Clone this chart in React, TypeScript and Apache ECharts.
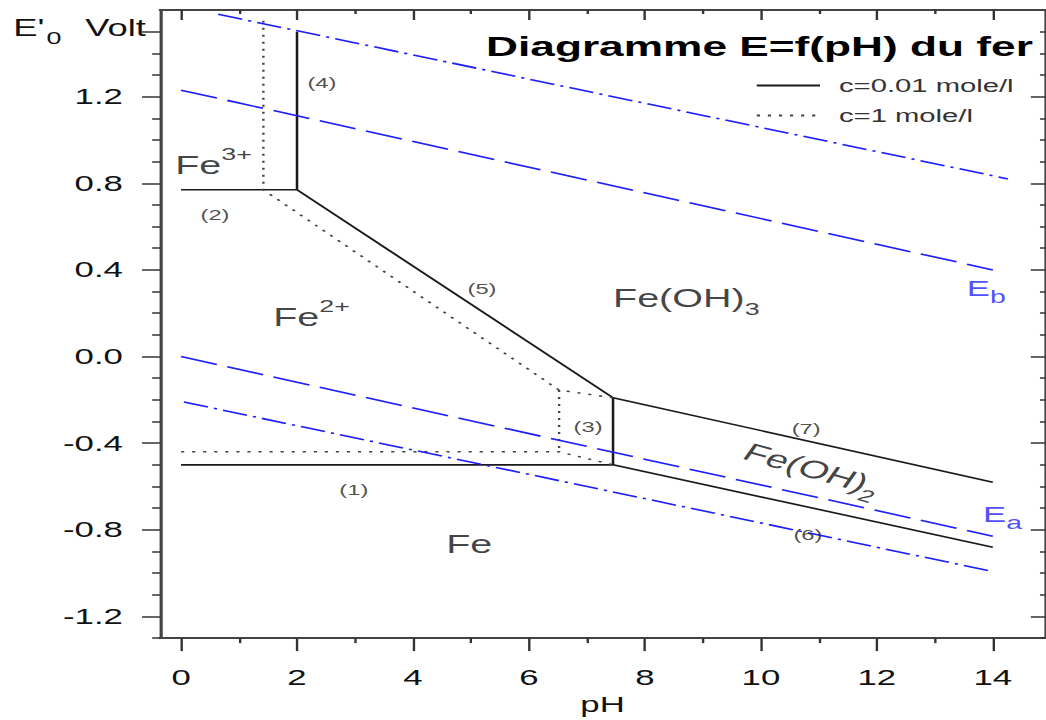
import React, { useEffect, useRef } from 'react';
import * as echarts from 'echarts';

// horizontal stretch of the reference picture
const S = 1.58;
const W = 670;
const H = 720;
const FONT = '"Liberation Sans", Arial, Helvetica, sans-serif';
const BLUE = '#1f1fff';
const INK = '#111';

// axes
const X_MIN = -0.362;
const X_MAX = 14.9;
const Y_MIN = -1.3;
const Y_MAX = 1.6;
const xMajorTicks = [0, 2, 4, 6, 8, 10, 12, 14];
const xMinorTicks = [1, 3, 5, 7, 9, 11, 13];
const yMajorTicks = [-1.2, -0.8, -0.4, 0, 0.4, 0.8, 1.2];
const yMinorTicks = [-1.3, -1.1, -1.0, -0.9, -0.7, -0.6, -0.5, -0.3, -0.2, -0.1, 0.1, 0.2, 0.3, 0.5, 0.6, 0.7, 0.9, 1.0, 1.1, 1.3, 1.4, 1.5];
const yNameTick = [1.5];

// c = 0.01 mole/l (solid)
const c001Upper = [[0, 0.77], [2, 0.77], [7.45, -0.19], [14, -0.58]];
const c001Line4 = [[2, 0.77], [2, 1.5]];
const c001Line3 = [[7.45, -0.19], [7.45, -0.5]];
const c001Lower = [[0, -0.5], [7.45, -0.5], [14, -0.88]];
// c = 1 mole/l (dotted)
const c1Upper = [[1.42, 1.55], [1.42, 0.77], [6.52, -0.155], [7.45, -0.19]];
const c1Line3 = [[6.52, -0.155], [6.52, -0.445]];
const c1Lower = [[0, -0.44], [6.52, -0.44], [7.45, -0.5]];
// water lines
const ebDashed = [[0, 1.23], [14, 0.4]];
const ebDashDot = [[0.64, 1.58], [14.26, 0.82]];
const eaDashed = [[0, 0], [14, -0.83]];
const eaDashDot = [[0.05, -0.21], [13.95, -0.99]];

// annotations
const speciesText = ['{m|Fe}{sup|3+}', '{m|Fe}{sup|2+}', '{m|Fe(OH)}{sub|3}', '{m|Fe}', '{m|Fe(OH)}{sub|2}', '{e|E}{es|b}', '{e|E}{es|a}'];
const speciesX = [-0.1, 1.59, 7.45, 4.97, 10.9, 13.55, 13.83];
const speciesY = [0.883, 0.179, 0.271, -0.869, -0.52, 0.313, -0.731];
const speciesAlign = ['left', 'left', 'left', 'center', 'center', 'left', 'left'];
const speciesRotate = [0, 0, 0, 0, -24, 0, 0];
const numText = ['(1)', '(2)', '(3)', '(4)', '(5)', '(6)', '(7)'];
const numX = [2.98, 0.586, 7.02, 2.43, 5.19, 10.81, 10.78];
const numY = [-0.616, 0.653, -0.322, 1.264, 0.313, -0.823, -0.331];

const SOLID = 'c=0.01 mole/l';
const DOTTED = 'c=1 mole/l';

const lineSeries = (name: string, data: number[][], color: string, type: any, width: number) => ({
  type: 'line',
  name,
  data,
  symbol: 'none',
  showSymbol: false,
  silent: true,
  lineStyle: { color, width, type },
  itemStyle: { color },
});

const axisBase = {
  type: 'value',
  splitLine: { show: false },
};

function buildOption() {
  const labelItems: any[] = [];
  speciesText.forEach((t, i) => {
    labelItems.push({
      value: [speciesX[i], speciesY[i]],
      text: t,
      label: { align: speciesAlign[i], verticalAlign: 'middle', rotate: speciesRotate[i] },
    });
  });
  numText.forEach((t, i) => {
    labelItems.push({
      value: [numX[i], numY[i]],
      text: '{n|' + t + '}',
      label: { align: 'center', verticalAlign: 'middle' },
    });
  });

  return {
    animation: false,
    textStyle: { fontFamily: FONT },
    grid: { left: 101.3, right: W - 661.4, top: 10, bottom: 79.25 },
    title: {
      text: 'Diagramme E=f(pH) du fer',
      right: W - 653.8,
      top: 32,
      padding: 0,
      textStyle: { fontFamily: FONT, fontSize: 28, fontWeight: 'bold', color: '#000' },
    },
    legend: {
      data: [SOLID, DOTTED],
      orient: 'vertical',
      left: 478,
      top: 76,
      padding: 0,
      itemWidth: 40,
      itemHeight: 14,
      itemGap: 11,
      selectedMode: false,
      itemStyle: { opacity: 0 },
      textStyle: { fontFamily: FONT, fontSize: 18.5, color: '#333', lineHeight: 18, padding: [0, 0, 0, 7] },
    },
    xAxis: [
      {
        ...axisBase,
        position: 'bottom',
        min: X_MIN,
        max: X_MAX,
        name: 'pH',
        nameLocation: 'middle',
        nameGap: 52,
        nameTextStyle: { fontFamily: FONT, fontSize: 22, color: INK },
        axisLine: { show: true, onZero: false, lineStyle: { color: '#444', width: 2 } },
        axisTick: { show: true, customValues: xMajorTicks, length: 13, lineStyle: { color: '#333', width: 1.5 } },
        axisLabel: { show: true, customValues: xMajorTicks, margin: 28, fontFamily: FONT, fontSize: 22, color: INK, formatter: (v: number) => String(v) },
      },
      {
        ...axisBase,
        position: 'bottom',
        min: X_MIN,
        max: X_MAX,
        axisLine: { show: false, onZero: false },
        axisTick: { show: true, customValues: xMinorTicks, length: 5, lineStyle: { color: '#333', width: 1.5 } },
        axisLabel: { show: false },
      },
      {
        ...axisBase,
        position: 'top',
        min: X_MIN,
        max: X_MAX,
        axisLine: { show: true, onZero: false, lineStyle: { color: '#444', width: 2 } },
        axisTick: { show: true, inside: true, customValues: xMajorTicks, length: 10, lineStyle: { color: '#333', width: 1.5 } },
        axisLabel: { show: false },
      },
      {
        ...axisBase,
        position: 'top',
        min: X_MIN,
        max: X_MAX,
        axisLine: { show: false, onZero: false },
        axisTick: { show: true, inside: true, customValues: xMinorTicks, length: 4, lineStyle: { color: '#333', width: 1.5 } },
        axisLabel: { show: false },
      },
    ],
    yAxis: [
      {
        ...axisBase,
        position: 'left',
        min: Y_MIN,
        max: Y_MAX,
        axisLine: { show: true, onZero: false, lineStyle: { color: '#444', width: 2 } },
        axisTick: { show: true, customValues: [...yMajorTicks, ...yNameTick], length: 11.4, lineStyle: { color: '#333', width: 1.5 } },
        axisLabel: { show: true, customValues: yMajorTicks, margin: 23.5, fontFamily: FONT, fontSize: 22, color: INK, formatter: (v: number) => v.toFixed(1) },
      },
      {
        ...axisBase,
        position: 'left',
        min: Y_MIN,
        max: Y_MAX,
        axisLine: { show: false, onZero: false },
        axisTick: { show: true, customValues: yMinorTicks.filter((v) => v !== 1.5), length: 5, lineStyle: { color: '#333', width: 1.5 } },
        axisLabel: {
          show: true,
          customValues: yNameTick,
          margin: 9,
          fontFamily: FONT,
          fontSize: 23,
          color: INK,
          formatter: () => "{a|E'}{z| }{s|0}{v|Volt}",
          rich: {
            a: { fontFamily: FONT, fontSize: 23, lineHeight: 23, verticalAlign: 'top', color: INK },
            z: { fontFamily: FONT, fontSize: 5, lineHeight: 31, color: INK },
            s: { fontFamily: FONT, fontSize: 17, lineHeight: 17, verticalAlign: 'bottom', color: INK },
            v: { fontFamily: FONT, fontSize: 23, lineHeight: 23, verticalAlign: 'top', color: INK, padding: [0, 0, 0, 15] },
          },
        },
      },
      {
        ...axisBase,
        position: 'right',
        min: Y_MIN,
        max: Y_MAX,
        axisLine: { show: true, onZero: false, lineStyle: { color: '#444', width: 2 } },
        axisTick: { show: true, inside: true, customValues: yMajorTicks, length: 9, lineStyle: { color: '#333', width: 1.5 } },
        axisLabel: { show: false },
      },
      {
        ...axisBase,
        position: 'right',
        min: Y_MIN,
        max: Y_MAX,
        axisLine: { show: false, onZero: false },
        axisTick: { show: true, inside: true, customValues: yMinorTicks, length: 3.2, lineStyle: { color: '#333', width: 1.5 } },
        axisLabel: { show: false },
      },
    ],
    series: [
      lineSeries(SOLID, c001Upper, '#1a1a1a', 'solid', 1.6),
      lineSeries(SOLID, c001Line4, '#1a1a1a', 'solid', 1.6),
      lineSeries(SOLID, c001Line3, '#1a1a1a', 'solid', 1.6),
      lineSeries(SOLID, c001Lower, '#1a1a1a', 'solid', 1.6),
      lineSeries(DOTTED, c1Upper, '#444', [2, 5], 1.5),
      lineSeries(DOTTED, c1Line3, '#444', [2, 5], 1.5),
      lineSeries(DOTTED, c1Lower, '#444', [2, 5], 1.5),
      lineSeries('Eb1', ebDashed, BLUE, [24, 7], 1.6),
      lineSeries('Eb2', ebDashDot, BLUE, [16, 4, 2, 4], 1.6),
      lineSeries('Ea1', eaDashed, BLUE, [24, 7], 1.6),
      lineSeries('Ea2', eaDashDot, BLUE, [16, 4, 2, 4], 1.6),
      {
        type: 'scatter',
        name: 'labels',
        data: labelItems,
        symbolSize: 0,
        silent: true,
        z: 10,
        label: {
          show: true,
          position: 'inside',
          formatter: (p: any) => p.data.text,
          rich: {
            m: { fontFamily: FONT, fontSize: 25, lineHeight: 39, color: INK },
            sup: { fontFamily: FONT, fontSize: 17, lineHeight: 17, verticalAlign: 'top', color: INK },
            sub: { fontFamily: FONT, fontSize: 17, lineHeight: 17, verticalAlign: 'bottom', color: INK },
            e: { fontFamily: FONT, fontSize: 22, lineHeight: 34, color: BLUE },
            es: { fontFamily: FONT, fontSize: 18, lineHeight: 18, verticalAlign: 'bottom', color: BLUE },
            n: { fontFamily: FONT, fontSize: 15, lineHeight: 15, color: '#222' },
          },
        },
      },
    ],
  };
}

export default function App() {
  const ref = useRef<HTMLDivElement>(null);
  useEffect(() => {
    if (!ref.current) return;
    const chart = echarts.init(ref.current, null, { renderer: 'svg' });
    chart.setOption(buildOption() as any);
    return () => chart.dispose();
  }, []);
  return (
    <div style={{ position: 'fixed', left: 0, top: 0, width: 1046, height: 720, overflow: 'hidden', background: '#fff' }}>
      <div ref={ref} style={{ width: W, height: H, transform: `scaleX(${S})`, transformOrigin: '0 0' }} />
    </div>
  );
}
